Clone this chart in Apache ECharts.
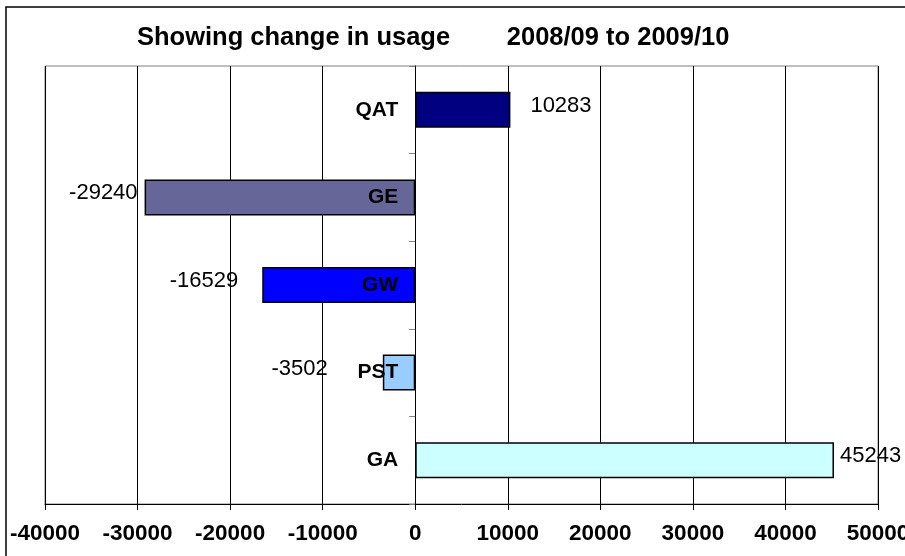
<!DOCTYPE html>
<html>
<head>
<meta charset="utf-8">
<script src="https://cdn.jsdelivr.net/npm/echarts@6/dist/echarts.min.js"></script>
<style>
  html, body { margin: 0; padding: 0; background: #fff; }
  #usageChart { width: 905px; height: 556px; }
</style>
</head>
<body>
<div id="usageChart"></div>
<script>
// change in usage 2008/09 -> 2009/10
const categories = ['QAT', 'GE', 'GW', 'PST', 'GA'];
const usageChange = [10283, -29240, -16529, -3502, 45243];
const xTicks = [-40000, -30000, -20000, -10000, 0, 10000, 20000, 30000, 40000, 50000];

// looks
const barColors = ['#000080', '#666699', '#0000ff', '#99ccff', '#ccffff'];
const labelGap = [20, 7, 24, 55, 6];

const chart = echarts.init(document.getElementById('usageChart'));

const option = {
  animation: false,
  backgroundColor: '#fff',
  title: {
    text: 'Showing change in usage        2008/09 to 2009/10',
    left: 132,
    top: 20,
    textStyle: {
      fontFamily: 'Liberation Sans, Arial',
      fontWeight: 'bold',
      fontSize: 25.5,
      color: '#000'
    }
  },
  graphic: [{
    type: 'rect',
    shape: { x: 6, y: 7, width: 1000, height: 700 },
    style: { fill: 'none', stroke: '#000', lineWidth: 1.5 },
    silent: true
  }],
  grid: {
    left: 45,
    right: 27,
    top: 66,
    bottom: 52,
    containLabel: false,
    outerBoundsMode: 'none',
    show: true,
    borderColor: '#808080',
    borderWidth: 1
  },
  xAxis: {
    type: 'value',
    min: xTicks[0],
    max: xTicks[xTicks.length - 1],
    interval: 10000,
    axisLine: { show: true, lineStyle: { color: '#000', width: 1 } },
    axisTick: { show: true, length: 6, lineStyle: { color: '#000' } },
    splitLine: { show: true, lineStyle: { color: '#000', width: 1 } },
    axisLabel: {
      margin: 18,
      formatter: v => String(v),
      fontFamily: 'Liberation Sans, Arial',
      fontWeight: 'bold',
      fontSize: 22.5,
      color: '#000'
    }
  },
  yAxis: {
    type: 'category',
    data: categories,
    inverse: true,
    axisLine: { show: true, onZero: true, lineStyle: { color: '#000', width: 1 } },
    axisTick: { show: true, length: 6, lineStyle: { color: '#808080' } },
    splitLine: { show: false },
    axisLabel: { show: false }
  },
  series: [{
    type: 'bar',
    barWidth: 36,
    data: usageChange.map((v, i) => ({
      value: v,
      itemStyle: { color: barColors[i] },
      label: {
        position: v >= 0 ? 'right' : 'left',
        distance: labelGap[i]
      }
    })),
    itemStyle: { borderColor: '#000', borderWidth: 1.5 },
    label: {
      show: true,
      offset: [0, -4],
      fontFamily: 'Liberation Sans, Arial',
      fontSize: 22,
      color: '#000'
    }
  }, {
    // category names sitting just left of the zero line
    type: 'scatter',
    symbolSize: 0,
    z: 10,
    silent: true,
    itemStyle: { opacity: 1, color: '#000' },
    emphasis: { disabled: true },
    data: categories.map(c => [0, c]),
    label: {
      show: true,
      position: 'left',
      distance: 17,
      formatter: p => p.value[1],
      fontFamily: 'Liberation Sans, Arial',
      fontWeight: 'bold',
      fontSize: 21,
      color: '#000',
      opacity: 1,
      textBorderWidth: 0
    }
  }]
};

chart.setOption(option);
</script>
</body>
</html>
